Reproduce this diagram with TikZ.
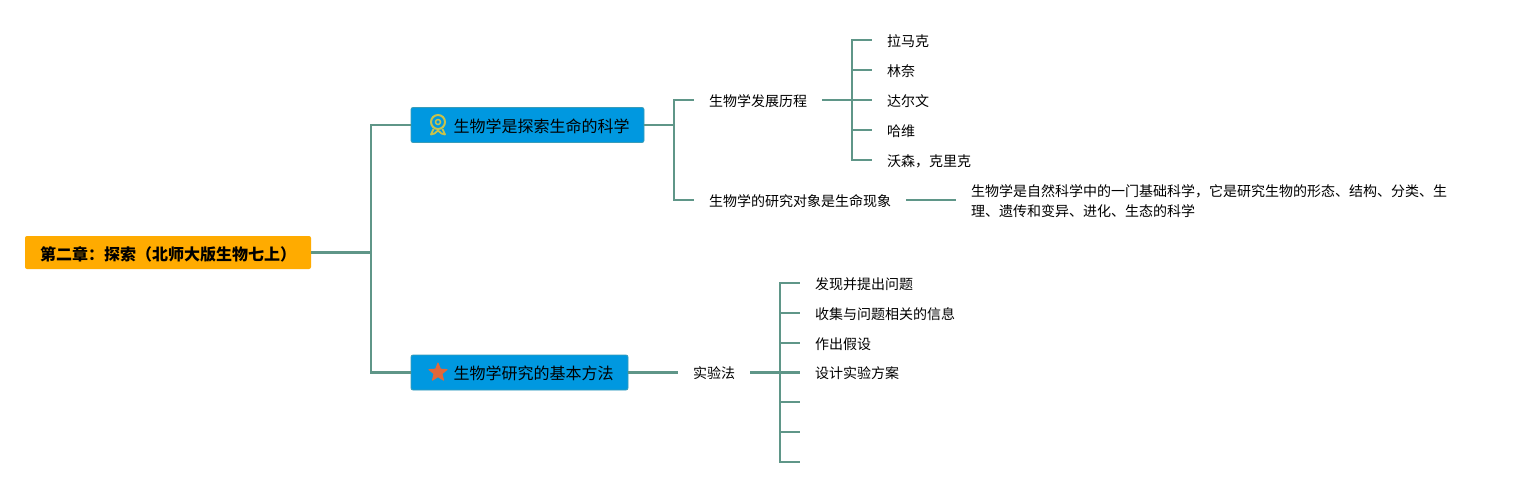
\documentclass[tikz,border=0pt]{standalone}
\usepackage{fontspec}
\setmainfont{Noto Sans CJK SC}
\usepackage{tikz}
\usetikzlibrary{shapes.geometric}
\definecolor{branchgreen}{HTML}{5F9688}
\definecolor{rootorange}{HTML}{FFAB00}
\definecolor{topicblue}{HTML}{0098E0}
\definecolor{topicedge}{HTML}{3A9CB8}
\definecolor{badgeyellow}{HTML}{C9C24A}
\definecolor{stared}{HTML}{E0673A}

\begin{document}
\begin{tikzpicture}[x=1pt, y=-1pt,
    branch/.style={draw=branchgreen, line width=2.2pt},
    rootbox/.style={fill=rootorange, rounded corners=2pt, minimum width=286pt, minimum height=33pt, inner sep=0pt, text height=17.6pt, text depth=1.6pt, font=\fontsize{16}{20}\selectfont\bfseries},
    topicbox/.style={fill=topicblue, draw=topicedge, line width=0.8pt, rounded corners=2pt, minimum height=35pt, inner sep=0pt, text height=15.6pt, text depth=1.6pt, font=\fontsize{16}{20}\selectfont},
    subtopic/.style={anchor=west, inner xsep=15pt, inner ysep=2pt, text height=14pt, text depth=1.4pt, font=\fontsize{14}{20}\selectfont},
    leaf/.style={subtopic},
    note/.style={anchor=west, inner xsep=15pt, inner ysep=2pt, font=\fontsize{14}{20}\selectfont, align=left}]
  \useasboundingbox (0,0) rectangle (1531,488);
  % Root
  \node[rootbox] (root) at (168,252.5) {第二章^^^^ff1a探索^^^^ff08北师大版生物七上^^^^ff09};
  \coordinate (hubmain) at (371,252.5);
  % Topic one
  \node[topicbox, minimum width=233pt] (science) at (527.5,125) {\hspace{28pt}生物学是探索生命的科学};
  \node[subtopic] (history) at (694,100) {生物学发展历程};
  \node[subtopic] (study) at (694,200) {生物学的研究对象是生命现象};
  \node[leaf] (lamarck) at (872,40) {拉马克};
  \node[leaf] (linnaeus) at (872,70) {林奈};
  \node[leaf] (darwin) at (872,100) {达尔文};
  \node[leaf] (harvey) at (872,130) {哈维};
  \node[leaf] (watson) at (872,160) {沃森^^^^ff0c克里克};
  \node[note] (define) at (956,201) {生物学是自然科学中的一门基础科学^^^^ff0c它是研究生物的形态、结构、分类、生\\理、遗传和变异、进化、生态的科学};
  \coordinate (hubscience) at (674,125);
  \coordinate (hubhistory) at (852,100);
  % Topic two
  \node[topicbox, minimum width=217pt] (method) at (519.5,372.5) {\hspace{28pt}生物学研究的基本方法};
  \node[subtopic] (experiment) at (678,372.5) {实验法};
  \node[leaf] (stepa) at (800,283) {发现并提出问题};
  \node[leaf] (stepb) at (800,313) {收集与问题相关的信息};
  \node[leaf] (stepc) at (800,343) {作出假设};
  \node[leaf] (stepd) at (800,372.5) {设计实验方案};
  \coordinate (stepe) at (800,402);
  \coordinate (stepf) at (800,432);
  \coordinate (stepg) at (800,462);
  \coordinate (hubexperiment) at (780,372.5);
  % Icons
  \node[star, star points=5, star point ratio=2.3, fill=stared, draw=stared, line width=1pt, line join=round, minimum size=19pt, inner sep=0pt] (staricon) at (438,372.5) {};
  \node[circle, draw=badgeyellow, line width=2pt, minimum size=14pt, inner sep=0pt] (badge) at (438,122) {};
  \node[circle, draw=badgeyellow, line width=1.5pt, minimum size=5pt, inner sep=0pt] (badgecore) at (438,122) {};
  \draw[badgeyellow, line width=1.8pt, line join=round] (433.5,129) -- (431,134.5) -- (434.5,133.5) -- (438,130.5) -- (441.5,133.5) -- (445,134.5) -- (442.5,129);
  % Connectors
  \draw[branch] (root.east) -- (hubmain) |- (science.west);
  \draw[branch] (hubmain) |- (method.west);
  \draw[branch] (science.east) -- (hubscience) |- (history.west);
  \draw[branch] (hubscience) |- (study.west);
  \draw[branch] (history.east) -- (hubhistory) |- (lamarck.west);
  \draw[branch] (hubhistory) |- (linnaeus.west);
  \draw[branch] (hubhistory) -- (darwin.west);
  \draw[branch] (hubhistory) |- (harvey.west);
  \draw[branch] (hubhistory) |- (watson.west);
  \draw[branch] (study.east) -- (study.east -| define.west);
  \draw[branch] (method.east) -- (experiment.west);
  \draw[branch, line width=3pt] (experiment.east) -- (hubexperiment);
  \draw[branch] (hubexperiment) |- (stepa.west);
  \draw[branch] (hubexperiment) |- (stepb.west);
  \draw[branch] (hubexperiment) |- (stepc.west);
  \draw[branch] (hubexperiment) -- (stepd.west);
  \draw[branch] (hubexperiment) |- (stepe);
  \draw[branch] (hubexperiment) |- (stepf);
  \draw[branch] (hubexperiment) |- (stepg);
\end{tikzpicture}
\end{document}
